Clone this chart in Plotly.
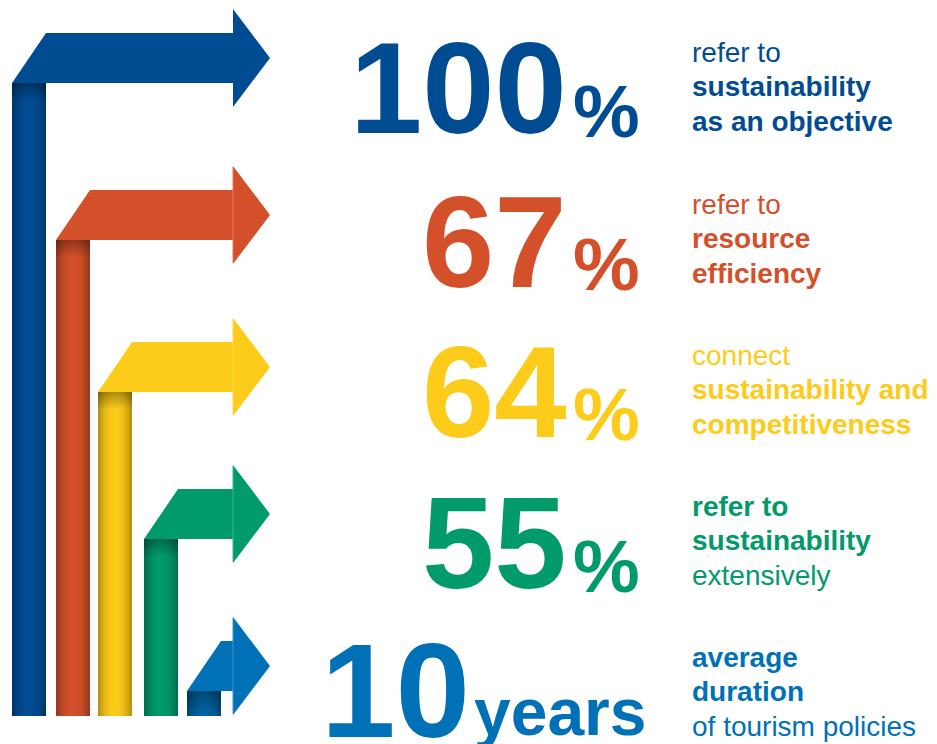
import plotly.graph_objects as go

# ---- data ----
values = ["100", "67", "64", "55", "10"]
units = ["%", "%", "%", "%", "years"]
line1 = ["refer to", "refer to", "connect", "refer to", "average"]
line2 = ["sustainability", "resource", "sustainability and", "sustainability", "duration"]
line3 = ["as an objective", "efficiency", "competitiveness", "extensively", "of tourism policies"]
bold1 = [False, False, False, True, True]
bold2 = [True, True, True, True, True]
bold3 = [True, True, True, False, False]
colors = ["#004C93", "#D4502B", "#FDCB1A", "#009A6B", "#0071B6"]

# ---- layout geometry (pixels) ----
W, H = 937, 744
OFF = 8  # page body margin
bar_left = [12, 56, 98, 144, 187]
bar_w = 34
band_top = [33, 190, 342, 489, 641]
band_h = 50
bar_bottom = 716
head_x0, head_x1, head_half = 233, 270, 49
num_base = [133, 287, 437, 588, 737]
unit_base = [137, 290, 440, 592, 735]
num_size = [130, 130, 130, 130, 134]
unit_size = [75, 75, 75, 75, 66]
num_right = [569, 569, 569, 569, 472]
unit_left = [571, 571, 571, 571, 472]
text_center = [52, 204, 355, 506, 657]
text_gap = 34.5
FONT = "Liberation Sans, Arial, Helvetica, sans-serif"
MID = 0.3465  # (ascent - descent) / 2 for Liberation Sans


def hex2rgb(h):
    h = h.lstrip("#")
    return tuple(int(h[i:i + 2], 16) for i in (0, 2, 4))


def shade(h, f):
    r, g, b = hex2rgb(h)
    return "rgb(%d,%d,%d)" % (max(0, min(255, r * f)), max(0, min(255, g * f)), max(0, min(255, b * f)))


def tint(h, f):
    r, g, b = hex2rgb(h)
    return "rgb(%d,%d,%d)" % (r + (255 - r) * f, g + (255 - g) * f, b + (255 - b) * f)


fig = go.Figure()
shapes = []

for i, c in enumerate(colors):
    bl = bar_left[i]
    bt = band_top[i]
    bb = bt + band_h
    # vertical bar with cylindrical shading
    n = 12
    for k in range(n):
        t = (k + 0.5) / n
        f = 1 - 0.32 * abs(2 * t - 1) ** 2.2
        x0 = bl + bar_w * k / n
        x1 = bl + bar_w * (k + 1) / n + (1.2 if k < n - 1 else 0)
        shapes.append(dict(type="rect", xref="x", yref="y",
                           x0=x0, x1=x1, y0=bb, y1=bar_bottom, fillcolor=shade(c, f),
                           line=dict(width=0), layer="below"))
    # top shadow under the band
    sh_len = 16 if i < 4 else bar_bottom - bb
    m = 8
    for k in range(m):
        a = 0.30 * (1 - k / m) if i < 4 else 0.30 * (1 - k / m) + 0.05
        shapes.append(dict(type="rect", xref="x", yref="y",
                           x0=bl, x1=bl + bar_w,
                           y0=bb + sh_len * k / m, y1=bb + sh_len * (k + 1) / m,
                           fillcolor="rgba(0,0,0,%.3f)" % a,
                           line=dict(width=0), layer="below"))
    # band (parallelogram start)
    fig.add_trace(go.Scatter(
        x=[bl, bl + bar_w, head_x0 + 0.5, head_x0 + 0.5, bl],
        y=[bb, bt, bt, bb, bb],
        fill="toself", fillcolor=c, mode="lines", line=dict(width=0),
        hoverinfo="skip"))
    # arrow head
    cy = bt + band_h / 2
    fig.add_trace(go.Scatter(
        x=[head_x0, head_x1, head_x0, head_x0],
        y=[cy - head_half, cy, cy + head_half, cy - head_half],
        fill="toself", fillcolor=c, mode="lines", line=dict(width=0),
        hoverinfo="skip"))
    if i > 0:
        fig.add_trace(go.Scatter(
            x=[head_x0, head_x0], y=[cy - head_half + 1, cy + head_half - 1],
            mode="lines", line=dict(width=1, color=tint(c, 0.25)),
            hoverinfo="skip"))

annotations = []
for i, c in enumerate(colors):
    annotations.append(dict(x=num_right[i], y=num_base[i] - MID * num_size[i], xref="x", yref="y",
                            xanchor="right", yanchor="middle", showarrow=False,
                            text="<b>%s</b>" % values[i],
                            font=dict(family=FONT, size=num_size[i], color=c)))
    annotations.append(dict(x=unit_left[i], y=unit_base[i] - MID * unit_size[i], xref="x", yref="y",
                            xanchor="left", yanchor="middle", showarrow=False,
                            text="<b>%s</b>" % units[i],
                            font=dict(family=FONT, size=unit_size[i], color=c)))
    for j, (lines, bolds) in enumerate(((line1, bold1), (line2, bold2), (line3, bold3))):
        s = lines[i]
        if bolds[i]:
            s = "<b>%s</b>" % s
        annotations.append(dict(x=690, y=text_center[i] + j * text_gap, xref="x", yref="y",
                                xanchor="left", yanchor="middle", showarrow=False,
                                text=s, font=dict(family=FONT, size=28, color=c)))

# the page body has an 8px margin: shrink the figure and shift the ranges so
# that data coordinates equal screen pixels
fig.update_layout(
    width=W - OFF, height=H - OFF, margin=dict(l=0, r=0, t=0, b=0),
    paper_bgcolor="white", plot_bgcolor="white", showlegend=False,
    xaxis=dict(range=[OFF, W], visible=False, fixedrange=True),
    yaxis=dict(range=[H, OFF], visible=False, fixedrange=True),
    shapes=shapes, annotations=annotations,
)

fig.write_html("out.html")
